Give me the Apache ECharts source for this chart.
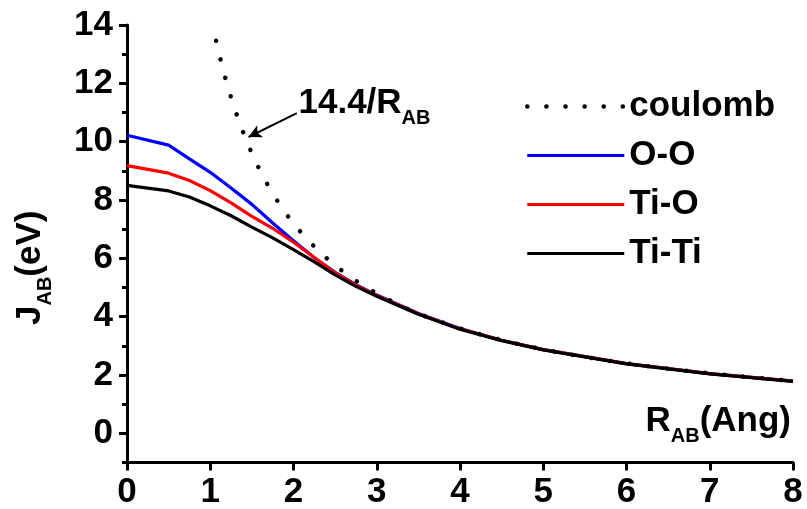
<!DOCTYPE html>
<html><head><meta charset="utf-8">
<script src="https://cdn.jsdelivr.net/npm/echarts@6/dist/echarts.min.js"></script>
<style>html,body{margin:0;padding:0;background:#fff}#c{width:807px;height:509px}</style>
</head><body><div id="c"></div>
<script>
// ---- data ----
const xTicks = [0, 1, 2, 3, 4, 5, 6, 7, 8];
const yMajorTicks = [0, 2, 4, 6, 8, 10, 12, 14];
const yMinorTicks = [-1, 1, 3, 5, 7, 9, 11, 13];
const seriesNames = ['coulomb', 'O-O', 'Ti-O', 'Ti-Ti'];
const rGrid = [0, 0.5, 0.75, 1, 1.25, 1.5, 1.75, 2, 2.25, 2.5, 2.75, 3, 3.5, 4, 4.5, 5, 6, 7, 8];
const ooValues = [10.22, 9.88, 9.41, 8.95, 8.41, 7.85, 7.21, 6.60, 6.02, 5.52, 5.10, 4.74, 4.11, 3.59, 3.19, 2.87, 2.39, 2.05, 1.79];
const tioValues = [9.18, 8.92, 8.67, 8.32, 7.90, 7.44, 7.03, 6.55, 6.03, 5.50, 5.08, 4.73, 4.10, 3.58, 3.19, 2.87, 2.39, 2.05, 1.79];
const titiValues = [8.50, 8.31, 8.10, 7.80, 7.46, 7.07, 6.70, 6.30, 5.88, 5.43, 5.04, 4.70, 4.08, 3.57, 3.18, 2.86, 2.38, 2.04, 1.78];
const coulombR = [1.07, 1.1, 1.15, 1.2, 1.3, 1.4, 1.5, 1.6, 1.7, 1.8, 1.9, 2.0, 2.2, 2.4, 2.6, 2.8, 3.0, 3.25, 3.5, 3.75, 4, 4.5, 5, 5.5, 6, 6.5, 7, 7.5, 8];
const coulombValues = [13.46, 13.09, 12.52, 12.0, 11.08, 10.29, 9.6, 9.0, 8.47, 8.0, 7.58, 7.2, 6.55, 6.0, 5.54, 5.14, 4.8, 4.43, 4.11, 3.84, 3.6, 3.2, 2.88, 2.62, 2.4, 2.22, 2.06, 1.92, 1.8];
const annotationText = '14.4/R';
const annotationSub = 'AB';
const annotationArrow = [[2.04, 10.98], [1.46, 10.16]];
const annotationLabelAt = [2.0, 11.3];

// ---- chart ----
const FONT = "'Liberation Sans', Arial, sans-serif";
const rich = {
  a: { fontSize: 35, fontWeight: 'bold', fontFamily: FONT, color: '#000' },
  b: { fontSize: 20, fontWeight: 'bold', fontFamily: FONT, color: '#000', padding: [30, 0, 0, 0] }
};
const zip = (xs, ys) => xs.map((x, i) => [x, ys[i]]);
const dottedStyle = { color: '#000', width: 4.5, type: [0.1, 19], cap: 'round' };
const lineColors = ['#000', '#0000ff', '#ff0000', '#000000'];

const chart = echarts.init(document.getElementById('c'), null, { renderer: 'canvas' });
chart.setOption({
  animation: false,
  backgroundColor: '#fff',
  grid: { left: 127, right: 14, top: 25, bottom: 46.5, containLabel: false, outerBoundsMode: 'none' },
  xAxis: {
    type: 'value', min: xTicks[0], max: xTicks[xTicks.length - 1], interval: 1,
    axisLine: { show: true, onZero: false, lineStyle: { color: '#000', width: 3 } },
    axisTick: { show: true, inside: false, length: 8, lineStyle: { color: '#000', width: 3 } },
    axisLabel: { fontSize: 35, fontWeight: 'bold', fontFamily: FONT, color: '#000', margin: 12 },
    splitLine: { show: false }
  },
  yAxis: [{
    type: 'value', min: -1, max: 14, position: 'left',
    axisLine: { show: true, onZero: false, lineStyle: { color: '#000', width: 3 } },
    axisTick: { show: true, inside: false, length: 8, lineStyle: { color: '#000', width: 3 }, customValues: yMajorTicks },
    axisLabel: { fontSize: 35, fontWeight: 'bold', fontFamily: FONT, color: '#000', margin: 14, customValues: yMajorTicks },
    splitLine: { show: false },
    name: '{a|J}{b|AB}{a|(eV)}',
    nameLocation: 'middle', nameRotate: 90, nameGap: 72,
    nameTextStyle: { rich: rich, padding: [0, 48, 0, 0] }
  }, {
    type: 'value', min: -1, max: 14, position: 'left',
    axisLine: { show: false },
    axisTick: { show: true, inside: false, length: 5, lineStyle: { color: '#000', width: 3 }, customValues: yMinorTicks },
    axisLabel: { show: false },
    splitLine: { show: false }
  }],
  legend: {
    data: seriesNames.map((n, i) => ({
      name: n,
      itemStyle: { opacity: 0 },
      lineStyle: i === 0 ? dottedStyle : { color: lineColors[i], width: 3, type: 'solid' }
    })),
    orient: 'vertical', left: 520, top: 84,
    itemWidth: 97, itemHeight: 14, itemGap: 14,
    itemStyle: { opacity: 0 },
    textStyle: { fontSize: 35, fontWeight: 'bold', fontFamily: FONT, color: '#000' }
  },
  graphic: [{
    type: 'text', right: 16, top: 404,
    style: { text: '{a|R}{b|AB}{a|(Ang)}', rich: rich }
  }],
  series: [
    {
      name: seriesNames[0], type: 'line', data: zip(coulombR, coulombValues), smooth: true,
      symbol: 'none', color: '#000',
      lineStyle: dottedStyle,
      z: 5,
      markLine: {
        silent: true, symbol: ['none', 'arrow'], symbolSize: [10, 13],
        lineStyle: { color: '#000', width: 2, type: 'solid' },
        label: { show: false },
        data: [[{ coord: annotationArrow[0] }, { coord: annotationArrow[1] }]]
      },
      markPoint: {
        silent: true, symbol: 'circle', symbolSize: 0,
        label: { show: true, position: 'right', distance: 5, formatter: '{a|' + annotationText + '}{b|' + annotationSub + '}', rich: rich },
        data: [{ coord: annotationLabelAt }]
      }
    },
    { name: seriesNames[1], type: 'line', data: zip(rGrid, ooValues), symbol: 'none', color: lineColors[1], lineStyle: { color: lineColors[1], width: 3.2 }, z: 2 },
    { name: seriesNames[2], type: 'line', data: zip(rGrid, tioValues), symbol: 'none', color: lineColors[2], lineStyle: { color: lineColors[2], width: 3.2 }, z: 3 },
    { name: seriesNames[3], type: 'line', data: zip(rGrid, titiValues), symbol: 'none', color: lineColors[3], lineStyle: { color: lineColors[3], width: 3.2 }, z: 4 }
  ]
});
</script>
</body></html>
